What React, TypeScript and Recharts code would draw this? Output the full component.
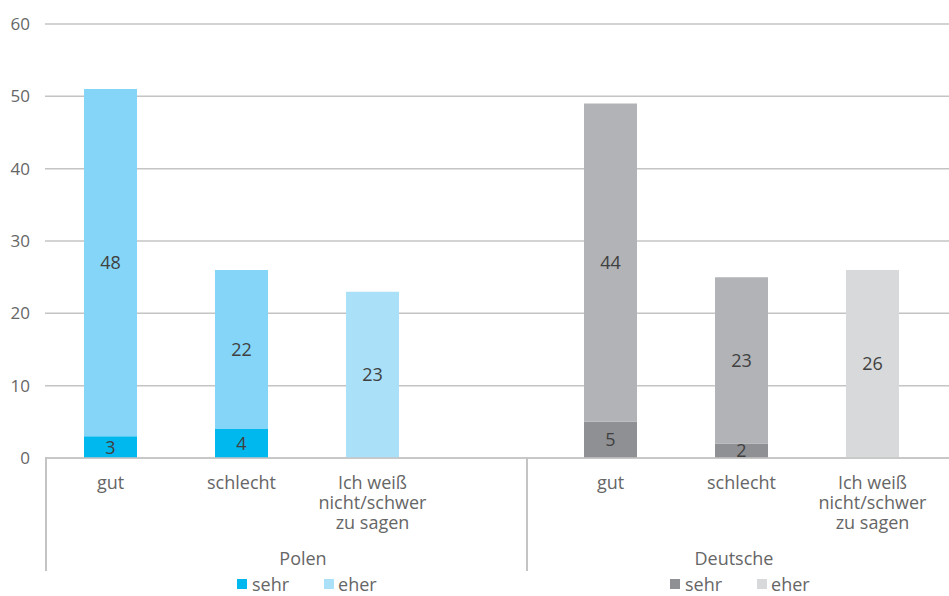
import React from "react";
import { BarChart, Bar, XAxis, YAxis, CartesianGrid, Cell, LabelList } from "recharts";

const categories = ["gut", "schlecht", "Ich weiß\nnicht/schwer\nzu sagen"];
const yTicks = [0, 10, 20, 30, 40, 50, 60];
const groups = ["Polen", "Deutsche"];
const seriesNames = ["sehr", "eher"];

const polenSehr = [3, 4, 0];
const polenEher = [48, 22, 23];
const deutscheSehr = [5, 2, 0];
const deutscheEher = [44, 23, 26];

const polenColors = { sehr: "#00b7ee", eher: ["#84d5f7", "#84d5f7", "#abe1f8"], legendEher: "#abe1f8" };
const deutscheColors = { sehr: "#8f9094", eher: ["#b2b3b6", "#b2b3b6", "#d8d9db"], legendEher: "#d8d9db" };

const build = (sehr: number[], eher: number[]) =>
  categories.map((c, i) => ({ cat: c, sehr: sehr[i], eher: eher[i] }));

const polenData = build(polenSehr, polenEher);
const deutscheData = build(deutscheSehr, deutscheEher);

const FONT = "'Open Sans', sans-serif";
const GRID = "#c4c4c4";
const TEXT = "#666666";

const CatTick = (props: any) => {
  const { x, y, payload } = props;
  const lines = String(payload.value).split("\n");
  return (
    <text x={x} y={y} textAnchor="middle" fill={TEXT} fontSize={18} fontFamily={FONT}>
      {lines.map((l, i) => (
        <tspan key={i} x={x} dy={i === 0 ? 29 : 20}>
          {l}
        </tspan>
      ))}
    </text>
  );
};

const fmt = (v: any) => (v ? v : "");

const LegendBox = ({ left, sehrColor, eherColor }: { left: number; sehrColor: string; eherColor: string }) => (
  <div style={{ position: "absolute", left, top: 574, display: "flex", alignItems: "center", fontFamily: FONT, fontSize: 18, color: TEXT, lineHeight: "20px", height: 20 }}>
    <span style={{ display: "inline-block", width: 10, height: 10, background: sehrColor, marginRight: 5 }} />
    <span style={{ marginRight: 35 }}>{seriesNames[0]}</span>
    <span style={{ display: "inline-block", width: 10, height: 10, background: eherColor, marginRight: 4 }} />
    <span>{seriesNames[1]}</span>
  </div>
);

const H = 596;
const BOTTOM_AXIS = 80;
const MARGIN_BOTTOM = H - 458 - BOTTOM_AXIS;

export default function App() {
  return (
    <div style={{ position: "absolute", left: 0, top: 0, width: 949, height: 596, overflow: "hidden", background: "#fff" }}>
      <div style={{ position: "absolute", left: 0, top: 0 }}>
        <BarChart width={527} height={H} data={polenData} margin={{ top: 24, right: 0, left: 0, bottom: MARGIN_BOTTOM }} barSize={53}>
          <CartesianGrid vertical={false} stroke={GRID} strokeWidth={1.5} />
          <XAxis dataKey="cat" interval={0} tick={<CatTick />} tickLine={false} tickSize={0} height={BOTTOM_AXIS}
            axisLine={{ stroke: GRID, strokeWidth: 1.5 }} padding={{ left: 0, right: 89 }} />
          <YAxis domain={[0, 60]} ticks={yTicks} width={45} axisLine={false} tickLine={false} tickSize={0} tickMargin={15}
            tick={{ fill: TEXT, fontSize: 17, fontFamily: FONT }} />
          <Bar dataKey="sehr" name={seriesNames[0]} stackId="a" fill={polenColors.sehr} isAnimationActive={false}>
            <LabelList dataKey="sehr" position="center" formatter={fmt} fill="#404040" fontSize={18} fontFamily={FONT} />
          </Bar>
          <Bar dataKey="eher" name={seriesNames[1]} stackId="a" fill={polenColors.eher[0]} isAnimationActive={false}>
            {polenData.map((_, i) => (
              <Cell key={i} fill={polenColors.eher[i]} />
            ))}
            <LabelList dataKey="eher" position="center" formatter={fmt} fill="#404040" fontSize={18} fontFamily={FONT} />
          </Bar>
        </BarChart>
      </div>
      <div style={{ position: "absolute", left: 527, top: 0 }}>
        <BarChart width={422} height={H} data={deutscheData} margin={{ top: 24, right: 0, left: 0, bottom: MARGIN_BOTTOM }} barSize={53}>
          <CartesianGrid vertical={false} stroke={GRID} strokeWidth={1.5} />
          <XAxis dataKey="cat" interval={0} tick={<CatTick />} tickLine={false} tickSize={0} height={BOTTOM_AXIS}
            axisLine={{ stroke: GRID, strokeWidth: 1.5 }} padding={{ left: 18, right: 11 }} />
          <YAxis domain={[0, 60]} ticks={yTicks} hide />
          <Bar dataKey="sehr" name={seriesNames[0]} stackId="a" fill={deutscheColors.sehr} isAnimationActive={false}>
            <LabelList dataKey="sehr" position="center" formatter={fmt} fill="#404040" fontSize={18} fontFamily={FONT} />
          </Bar>
          <Bar dataKey="eher" name={seriesNames[1]} stackId="a" fill={deutscheColors.eher[0]} isAnimationActive={false}>
            {deutscheData.map((_, i) => (
              <Cell key={i} fill={deutscheColors.eher[i]} />
            ))}
            <LabelList dataKey="eher" position="center" formatter={fmt} fill="#404040" fontSize={18} fontFamily={FONT} />
          </Bar>
        </BarChart>
      </div>
      <div style={{ position: "absolute", left: 45, top: 458, width: 2, height: 113, background: GRID }} />
      <div style={{ position: "absolute", left: 526, top: 458, width: 2, height: 113, background: GRID }} />
      <div style={{ position: "absolute", left: 203, width: 200, top: 546, textAlign: "center", fontFamily: FONT, fontSize: 18, color: TEXT }}>
        {groups[0]}
      </div>
      <div style={{ position: "absolute", left: 634, width: 200, top: 546, textAlign: "center", fontFamily: FONT, fontSize: 18, color: TEXT }}>
        {groups[1]}
      </div>
      <LegendBox left={237} sehrColor={polenColors.sehr} eherColor={polenColors.legendEher} />
      <LegendBox left={670} sehrColor={deutscheColors.sehr} eherColor={deutscheColors.legendEher} />
    </div>
  );
}
